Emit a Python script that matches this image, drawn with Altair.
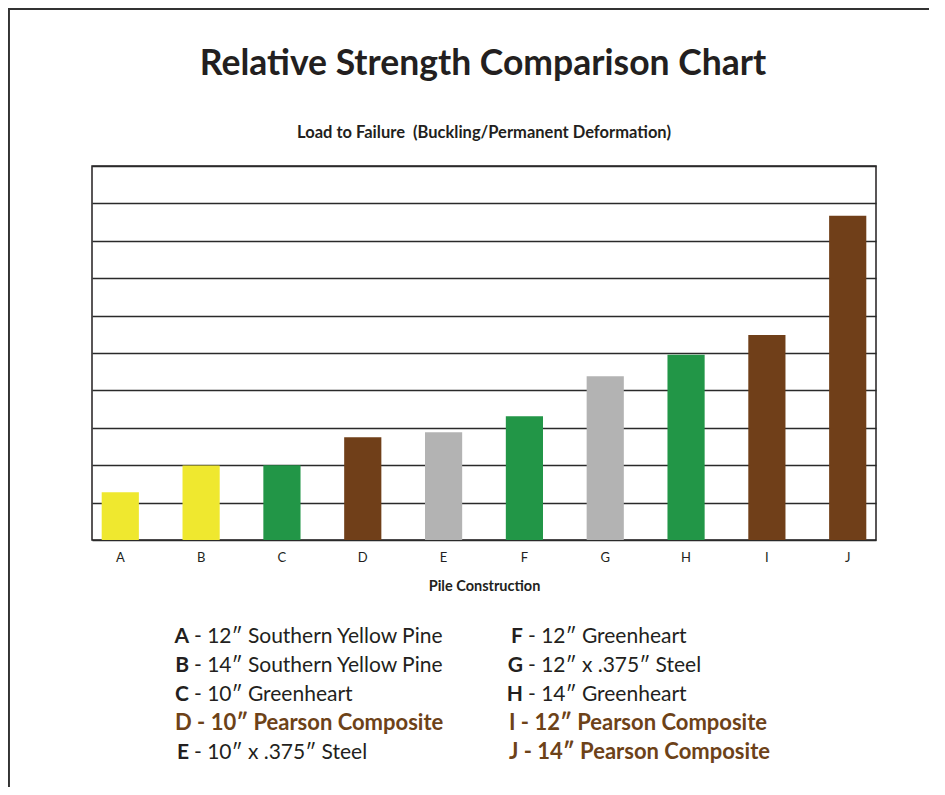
import altair as alt
import pandas as pd

# ---- data ----
piles = list("ABCDEFGHIJ")
loads = [1.28, 1.99, 2.0, 2.75, 2.88, 3.31, 4.38, 4.95, 5.48, 8.67]
materials = ["Southern Yellow Pine", "Southern Yellow Pine", "Greenheart",
             "Pearson Composite", "Steel", "Greenheart", "Steel",
             "Greenheart", "Pearson Composite", "Pearson Composite"]
descriptions = ["12″ Southern Yellow Pine", "14″ Southern Yellow Pine",
                "10″ Greenheart", "10″ Pearson Composite", "10″ x .375″ Steel",
                "12″ Greenheart", "12″ x .375″ Steel", "14″ Greenheart",
                "12″ Pearson Composite", "14″ Pearson Composite"]
material_names = ["Southern Yellow Pine", "Greenheart", "Steel", "Pearson Composite"]
material_colors = ["#efe82f", "#229647", "#b3b3b3", "#703f19"]
grid_values = list(range(0, 11))
title_text = ["Relative Strength Comparison Chart"]
subtitle_text = ["Load to Failure\u00a0 (Buckling/Permanent Deformation)"]

DARK = "#231f20"
BROWN = "#6d4218"
FONT = "Lato"

df = pd.DataFrame({"pile": piles, "load": loads, "material": materials})

leg = pd.DataFrame({"letter": piles, "desc": descriptions, "material": materials})
leg["idx"] = range(len(leg))
leg["col"] = leg["idx"] // 5
leg["row"] = leg["idx"] % 5
leg["rest"] = "- " + leg["desc"]
leg["full"] = leg["letter"] + " - " + leg["desc"]
leg["hl"] = leg["material"] == "Pearson Composite"

bars = alt.Chart(df).mark_bar().encode(
    x=alt.X("pile:N", sort=piles,
            scale=alt.Scale(paddingInner=0.54, paddingOuter=0.12),
            axis=alt.Axis(title="Pile Construction", labelAngle=0, ticks=False,
                          tickSize=0, domain=False, labelFont=FONT,
                          labelFontSize=13, labelColor=DARK, labelPadding=11,
                          titleFont=FONT, titleFontSize=14.5, titleFontWeight="bold",
                          titleColor=DARK, titlePadding=15)),
    y=alt.Y("load:Q", scale=alt.Scale(domain=[0, 10], nice=False),
            axis=alt.Axis(values=grid_values, labels=False, ticks=False,
                          domain=False, grid=True, gridColor="#2a2a2a",
                          gridWidth=1.3, title=None)),
    color=alt.Color("material:N",
                    scale=alt.Scale(domain=material_names, range=material_colors),
                    legend=None),
)

legx = alt.X("col:Q", scale=alt.Scale(domain=[0, 1], range=[83, 417]), axis=None)
legy = alt.Y("row:Q", scale=alt.Scale(domain=[0, 4], range=[477, 593]), axis=None)

base_leg = alt.Chart(leg)
letters_layer = base_leg.transform_filter("!datum.hl").mark_text(
    align="right", baseline="alphabetic", dx=14, font=FONT, fontSize=21,
    fontWeight="bold", color=DARK
).encode(x=legx, y=legy, text="letter:N")

rest_layer = base_leg.transform_filter("!datum.hl").mark_text(
    align="left", baseline="alphabetic", dx=19, font=FONT, fontSize=21,
    color=DARK
).encode(x=legx, y=legy, text="rest:N")

brown_layer = base_leg.transform_filter("datum.hl").mark_text(
    align="left", baseline="alphabetic", dx=0, font=FONT, fontSize=22,
    fontWeight="bold", color=BROWN
).encode(x=legx, y=legy, text="full:N")

title_layer = alt.Chart(pd.DataFrame({"t": title_text})).mark_text(
    align="center", baseline="alphabetic", font=FONT, fontSize=35.5,
    fontWeight="bold", color=DARK
).encode(text="t:N", x=alt.value(391), y=alt.value(-91))

subtitle_layer = alt.Chart(pd.DataFrame({"t": subtitle_text})).mark_text(
    align="center", baseline="alphabetic", font=FONT, fontSize=16.5,
    fontWeight="bold", color=DARK
).encode(text="t:N", x=alt.value(392), y=alt.value(-28))

frame_left = alt.Chart(df).mark_rule(color="#333333", strokeWidth=1.5).encode(
    x=alt.value(-83.5), y=alt.value(-157), y2=alt.value(640))
frame_top = alt.Chart(df).mark_rule(color="#333333", strokeWidth=1.5).encode(
    x=alt.value(-83.5), x2=alt.value(900), y=alt.value(-157))

chart = alt.layer(
    bars, letters_layer, rest_layer, brown_layer, title_layer, subtitle_layer,
    frame_left, frame_top
).resolve_scale(
    x="independent", y="independent"
).properties(
    width=784, height=374,
    autosize=alt.AutoSizeParams(type="none"),
    padding={"left": 84, "top": 158, "right": 53, "bottom": 247},
).configure_view(
    stroke=DARK, strokeWidth=1.5
)

chart.save("out.html", embed_options={"renderer": "svg", "actions": False})
